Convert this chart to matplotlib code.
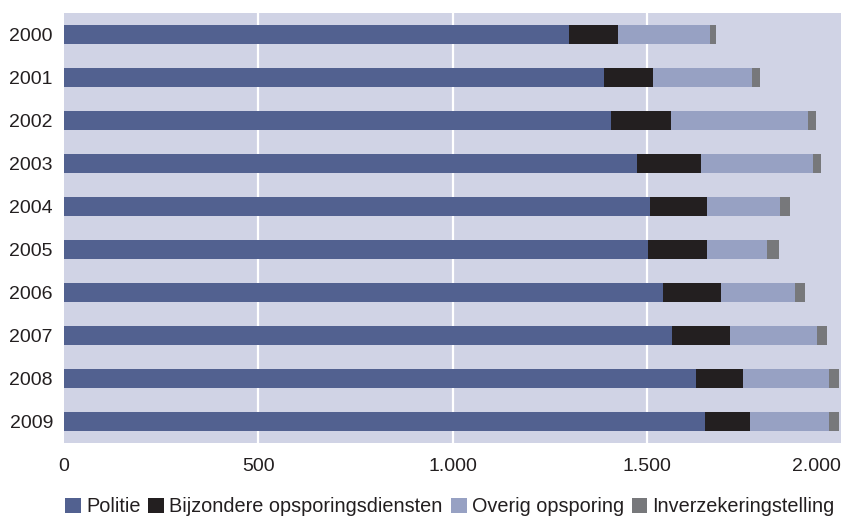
import matplotlib.pyplot as plt
import numpy as np

# jaren en waarden
jaren = ['2000', '2001', '2002', '2003', '2004', '2005', '2006', '2007', '2008', '2009']
politie = [1300, 1390, 1408, 1475, 1508, 1503, 1542, 1565, 1627, 1650]
bijzondere = [126, 126, 154, 165, 147, 152, 149, 149, 121, 116]
overig = [237, 255, 353, 288, 188, 155, 191, 224, 221, 203]
inverzekering = [15, 21, 21, 21, 26, 30, 25, 26, 26, 26]

series = [
    ('Politie', politie, '#526190'),
    ('Bijzondere opsporingsdiensten', bijzondere, '#231f20'),
    ('Overig opsporing', overig, '#97a1c3'),
    ('Inverzekeringstelling', inverzekering, '#77787b'),
]

text_color = '#231f20'
plt.rcParams['font.family'] = ['Liberation Sans', 'DejaVu Sans']

fig = plt.figure(figsize=(8.41, 5.18), dpi=100)
ax = fig.add_axes([64 / 841, (518 - 443) / 518, 777 / 841, 430 / 518])
ax.set_facecolor('#d0d3e5')

y = np.arange(len(jaren))
left = np.zeros(len(jaren))
for name, vals, color in series:
    ax.barh(y, vals, left=left, height=0.44, color=color, label=name, zorder=3)
    left += np.array(vals)

ax.set_xlim(0, 2000)
ax.set_ylim(9.5, -0.5)
ax.set_yticks(y)
ax.set_yticklabels(jaren)
ax.set_xticks([0, 500, 1000, 1500, 2000])
ax.set_xticklabels(['0', '500', '1.000', '1.500', '2.000'])
ax.get_xticklabels()[-1].set_horizontalalignment('right')

for v in [500, 1000, 1500]:
    ax.axvline(v, color='white', linewidth=1.6, zorder=1)

for s in ax.spines.values():
    s.set_visible(False)
ax.tick_params(axis='x', length=0, pad=11, labelsize=14, labelcolor=text_color)
ax.tick_params(axis='y', length=0, pad=8, labelsize=14, labelcolor=text_color)

fig.legend(loc='center', bbox_to_anchor=(0.535, 0.022), ncol=4, frameon=False,
           prop={'size': 14.3},
           handlelength=0.8, handleheight=0.8, handletextpad=0.25,
           columnspacing=0.4, borderpad=0, labelcolor=text_color)

fig.savefig('out.png', dpi=100)
